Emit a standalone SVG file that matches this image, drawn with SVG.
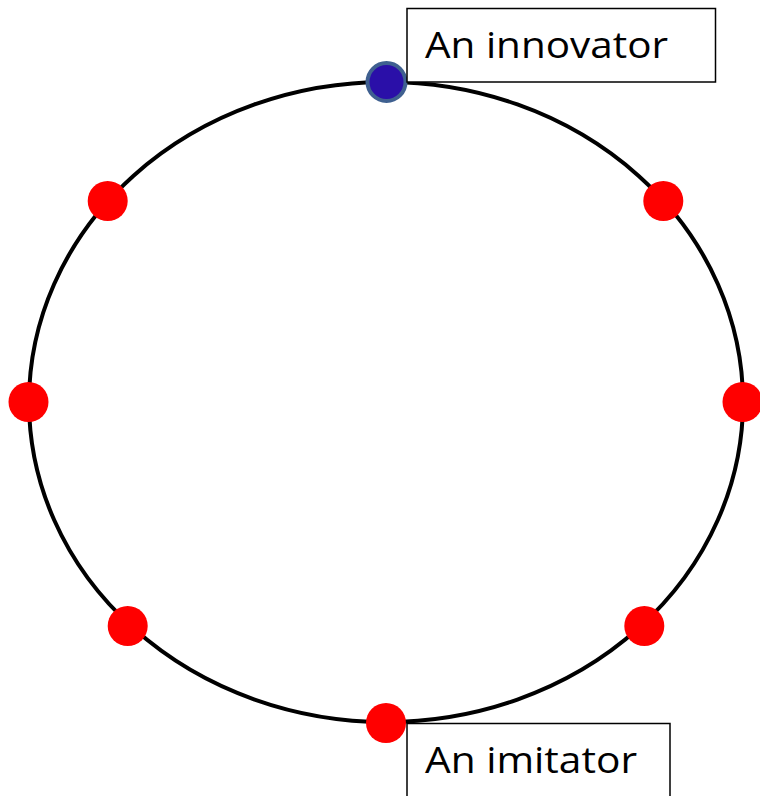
<svg xmlns="http://www.w3.org/2000/svg" width="760" height="796" viewBox="0 0 760 796">
<style>
.lbl{fill:#fff;stroke:#000;stroke-width:1.5}
.txt{font-family:"Open Sans","Liberation Sans",sans-serif;font-size:37px;fill:#000}
.red{fill:#ff0000}
</style>
<rect width="760" height="796" fill="#fff"/>
<g id="connectors">
<ellipse cx="386" cy="402" rx="357" ry="320" fill="none" stroke="#000" stroke-width="4"/>
</g>
<g id="n-left"><circle class="red" cx="28.5" cy="402" r="20"/></g>
<g id="n-right"><circle class="red" cx="742.5" cy="402" r="20"/></g>
<g id="n-ul"><circle class="red" cx="107.7" cy="201" r="20"/></g>
<g id="n-ur"><circle class="red" cx="663.3" cy="201" r="20"/></g>
<g id="n-ll"><circle class="red" cx="127.7" cy="626" r="20"/></g>
<g id="n-lr"><circle class="red" cx="644.3" cy="626" r="20"/></g>
<g id="n-bottom"><circle class="red" cx="386" cy="723" r="20"/></g>
<g id="n-top"><circle cx="386.5" cy="82" r="19" fill="#2a0fa8" stroke="#3f6090" stroke-width="4"/></g>
<g id="label-innovator">
<rect class="lbl" x="407" y="8.5" width="308.5" height="73.5"/>
<text class="txt" x="425" y="58" textLength="243" lengthAdjust="spacingAndGlyphs">An innovator</text>
</g>
<g id="label-imitator">
<rect class="lbl" x="407" y="723.5" width="263" height="80"/>
<text class="txt" x="425" y="773" textLength="212" lengthAdjust="spacingAndGlyphs">An imitator</text>
</g>
</svg>
